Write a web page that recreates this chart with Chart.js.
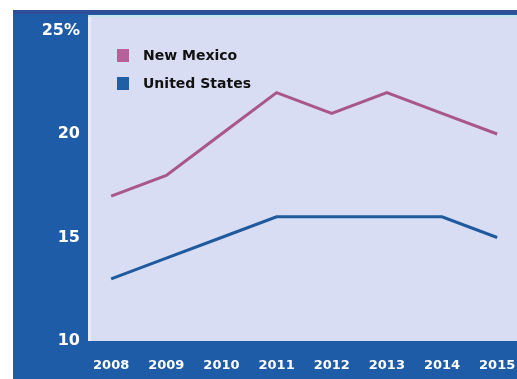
<!DOCTYPE html>
<html>
<head>
<meta charset="utf-8">
<script src="https://cdn.jsdelivr.net/npm/chart.js@4.4.0/dist/chart.umd.min.js"></script>
<style>
  html, body { margin: 0; padding: 0; background: #fff; overflow: hidden; }
  #chart { display: block; }
</style>
</head>
<body>
<canvas id="chart" width="517" height="379"></canvas>
<script>
// Données : taux par année
const years = [2008, 2009, 2010, 2011, 2012, 2013, 2014, 2015];
const newMexico = [17, 18, 20, 22, 21, 22, 21, 20];
const unitedStates = [13, 14, 15, 16, 16, 16, 16, 15];
const yTicks = [10, 15, 20, 25];

const seriesNames = ['New Mexico', 'United States'];
const seriesColors = ['#a9578a', '#1f5a9e'];
const legendColors = ['#b8609a', '#1f5fa6'];

const panelBlue = '#1f5ca7';
const plotFill = '#d9ddf3';

// fond bleu + zone de tracé lavande
const backdrop = {
    id: 'backdrop',
    beforeDraw(chart) {
        const { ctx, chartArea: a, width, height } = chart;
        ctx.save();
        ctx.fillStyle = '#ffffff';
        ctx.fillRect(0, 0, width, height);
        ctx.fillStyle = panelBlue;
        ctx.fillRect(13, 10, width - 13, height - 10);
        ctx.fillStyle = '#2f4e98';
        ctx.fillRect(13, 10, width - 13, 4);
        ctx.fillStyle = plotFill;
        ctx.fillRect(a.left, a.top, a.right - a.left, a.bottom - a.top);
        ctx.fillStyle = '#e6ecfb';
        ctx.fillRect(a.left, a.top, 3, a.bottom - a.top);
        ctx.fillStyle = '#c4e6ea';
        ctx.fillRect(a.left, a.top, a.right - a.left, 2);
        ctx.restore();
    }
};

// légende dessinée dans la zone de tracé
const boxLegend = {
    id: 'boxLegend',
    afterDatasetsDraw(chart) {
        const { ctx, chartArea: a } = chart;
        ctx.save();
        ctx.font = 'bold 14px "DejaVu Sans", sans-serif';
        ctx.textBaseline = 'middle';
        chart.data.datasets.forEach((ds, i) => {
            const y = a.top + 40 + i * 28;
            ctx.fillStyle = legendColors[i];
            ctx.fillRect(a.left + 29, y - 6, 12, 13);
            ctx.fillStyle = '#111111';
            ctx.fillText(ds.label, a.left + 55, y + 1);
        });
        ctx.restore();
    }
};

const makePoints = values => years.map((yr, i) => ({ x: yr, y: values[i] }));

new Chart(document.getElementById('chart'), {
    type: 'line',
    data: {
        datasets: [
            {
                label: seriesNames[0],
                data: makePoints(newMexico),
                borderColor: seriesColors[0],
                borderWidth: 3,
                pointRadius: 0,
                tension: 0
            },
            {
                label: seriesNames[1],
                data: makePoints(unitedStates),
                borderColor: seriesColors[1],
                borderWidth: 3,
                pointRadius: 0,
                tension: 0
            }
        ]
    },
    options: {
        responsive: false,
        animation: false,
        devicePixelRatio: 1,
        layout: { padding: { top: 15, left: 0, right: 0, bottom: 0 } },
        plugins: {
            legend: { display: false },
            tooltip: { enabled: false }
        },
        scales: {
            x: {
                type: 'linear',
                min: 2007.58,
                max: 2015.36,
                afterBuildTicks: scale => {
                    scale.ticks = years.map(v => ({ value: v }));
                },
                afterFit: scale => {
                    scale.height = 38;
                    scale.paddingLeft = 0;
                    scale.paddingRight = 0;
                },
                grid: { display: false, drawTicks: false },
                border: { display: false },
                ticks: {
                    padding: 17,
                    color: '#ffffff',
                    font: { family: '"DejaVu Sans", sans-serif', size: 13, weight: 'bold' },
                    maxRotation: 0,
                    autoSkip: false,
                    callback: v => String(v)
                }
            },
            y: {
                min: 10,
                max: 25.75,
                afterBuildTicks: scale => {
                    scale.ticks = yTicks.map(v => ({ value: v }));
                },
                afterFit: scale => {
                    scale.width = 88;
                    scale.paddingTop = 0;
                    scale.paddingBottom = 0;
                },
                grid: { display: false, drawTicks: false },
                border: { display: false },
                ticks: {
                    padding: 8,
                    color: '#ffffff',
                    font: { family: '"DejaVu Sans", sans-serif', size: 16, weight: 'bold' },
                    callback: v => (v === 25 ? '25%' : String(v))
                }
            }
        }
    },
    plugins: [backdrop, boxLegend]
});
</script>
</body>
</html>
